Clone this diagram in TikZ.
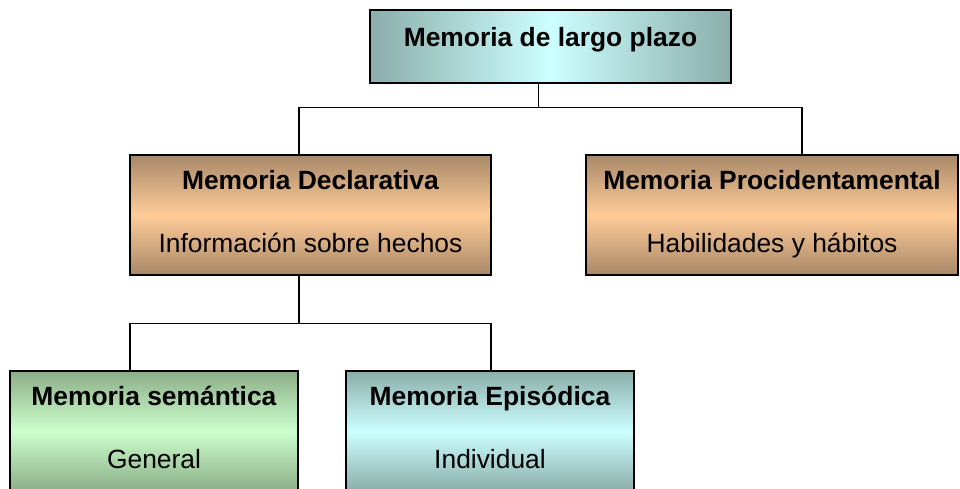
\documentclass[tikz,border=0pt]{standalone}
\usepackage{fontspec}
\setmainfont{Liberation Sans}
\definecolor{tealshade}{RGB}{139,174,170}
\definecolor{tealpale}{RGB}{204,255,255}
\definecolor{tanshade}{RGB}{168,136,104}
\definecolor{tanpale}{RGB}{255,204,153}
\definecolor{greenshade}{RGB}{140,174,136}
\definecolor{greenpale}{RGB}{204,255,204}
\begin{document}
\begin{tikzpicture}[x=1pt, y=-1pt, line width=1.3pt,
        main/.style = {draw, line width=1.6pt, align=center, inner sep=0pt, font=\fontsize{26.4}{31.7}\selectfont},
        wide/.style = {main, minimum width=361pt, minimum height=120pt, text depth=6.6pt},
        narrow/.style = {main, minimum width=288pt, minimum height=120pt, text depth=6.6pt},
        tan/.style = {top color=tanshade, bottom color=tanshade, middle color=tanpale},
        teal/.style = {top color=tealshade, bottom color=tealshade, middle color=tealpale},
        green/.style = {top color=greenshade, bottom color=greenshade, middle color=greenpale}]
            \useasboundingbox (0,0) rectangle (960,489);
            \clip (0,0) rectangle (960,489);

            \node[main, minimum width=361pt, minimum height=73pt, text height=19.8pt, text depth=19.8pt,
                  left color=tealshade, right color=tealshade, middle color=tealpale]
                  (1) at (550.5,46.5) {\textbf{Memoria de largo plazo}};
            \node[wide, tan] (2) at (310.5,215) {\textbf{Memoria Declarativa}\\[31.3pt]Información sobre hechos};
            \node[wide, tan, minimum width=372pt] (3) at (772,215) {\textbf{Memoria Procidentamental}\\[31.3pt]Habilidades y hábitos};
            \node[narrow, green] (4) at (154,431) {\textbf{Memoria semántica}\\[31.3pt]General};
            \node[narrow, teal] (5) at (490,431) {\textbf{Memoria Episódica}\\[31.3pt]Individual};

            \draw ([xshift=-12]1.south) -- ++(0,24) coordinate (j1);
            \draw ([xshift=-11.5]2.north) |- (j1) -| ([xshift=30]3.north);
            \draw ([xshift=-11.5]2.south) -- ++(0,48) coordinate (j2);
            \draw ([xshift=-24]4.north) |- (j2) -| ([xshift=1]5.north);
        \end{tikzpicture}
\end{document}
